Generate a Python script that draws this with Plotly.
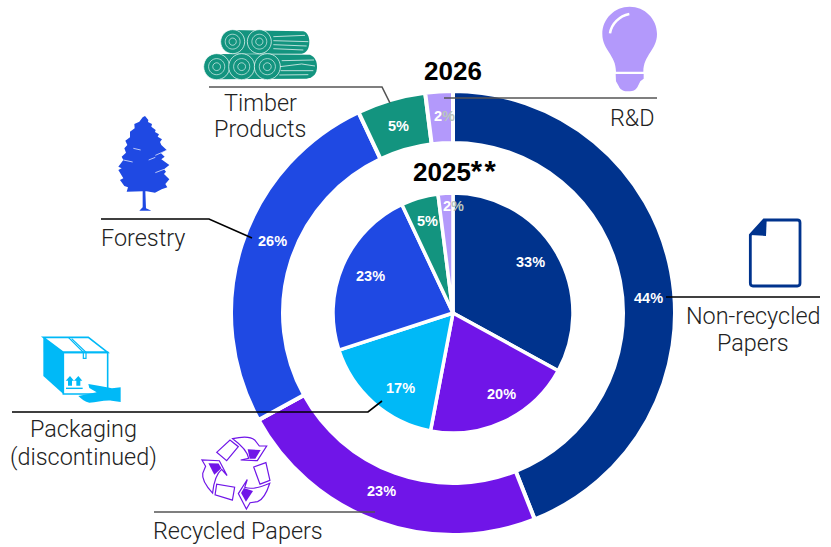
import re, math
import plotly.graph_objects as go

W, H = 831, 547

categories = ["Non-recycled Papers", "Recycled Papers", "Packaging (discontinued)", "Forestry", "Timber Products", "R&D"]
values_2026 = [44, 23, 0, 26, 5, 2]
values_2025 = [33, 20, 17, 23, 5, 2]
colors = ["#00338D", "#7015E8", "#00B9F7", "#1F49E3", "#13947F", "#B399FB"]


def fx(x): return x / W
def fy(y): return 1 - y / H


def domain(cx, cy, r):
    return dict(x=[fx(cx - r), fx(cx + r)], y=[fy(cy + r), fy(cy - r)])


CX, CY = 453, 313
fig = go.Figure()
fig.add_trace(go.Pie(labels=categories, values=values_2026, sort=False, direction="clockwise", rotation=0,
                     hole=170 / 222, domain=domain(CX, CY, 222), textinfo="none", showlegend=False,
                     marker=dict(colors=colors, line=dict(color="white", width=4))))
fig.add_trace(go.Pie(labels=categories, values=values_2025, sort=False, direction="clockwise", rotation=0,
                     hole=0, domain=domain(CX, CY, 120), textinfo="none", showlegend=False,
                     marker=dict(colors=colors, line=dict(color="white", width=3.5))))

shapes = []


def tf(path, ox=0, oy=0, s=1.0, rot=0, c=(0, 0)):
    """Map an icon path from its sketch space to paper coordinates."""
    toks = re.findall(r"[MLCQZ]|-?\d+\.?\d*", path)
    res, i = [], 0
    while i < len(toks):
        t = toks[i]
        if t in "MLCQZ":
            res.append(t); i += 1
        else:
            x, y = float(toks[i]), float(toks[i + 1])
            if rot:
                a = math.radians(rot)
                dx, dy = x - c[0], y - c[1]
                x = c[0] + dx * math.cos(a) - dy * math.sin(a)
                y = c[1] + dx * math.sin(a) + dy * math.cos(a)
            res.append(f"{fx(ox + x * s):.5f},{fy(oy + y * s):.5f}")
            i += 2
    return " ".join(res)


def icon(path, fill=None, line=None, width=0, **kw):
    shapes.append(dict(type="path", xref="paper", yref="paper", path=tf(path, **kw),
                       fillcolor=fill if fill else "rgba(0,0,0,0)",
                       line=dict(color=line if line else "rgba(0,0,0,0)", width=width)))


def circ(x, y, r):
    k = 0.5523 * r
    return (f"M{x-r},{y} C{x-r},{y-k} {x-k},{y-r} {x},{y-r} C{x+k},{y-r} {x+r},{y-k} {x+r},{y} "
            f"C{x+r},{y+k} {x+k},{y+r} {x},{y+r} C{x-k},{y+r} {x-r},{y+k} {x-r},{y} Z")


def poly(pts):
    return "M" + " L".join(f"{a},{b}" for a, b in pts) + " Z"


def leader(pts, color, width=1.6):
    shapes.append(dict(type="path", xref="paper", yref="paper",
                       path="M" + " L".join(f"{fx(a):.5f},{fy(b):.5f}" for a, b in pts),
                       line=dict(color=color, width=width)))


# ---- leader lines
leader([(209, 87), (382, 87), (390, 103)], "#555555")
leader([(444, 98), (657, 98)], "#555555")
leader([(666, 297), (820, 297)], "#000000")
leader([(101, 219), (209, 219), (252, 238)], "#000000")
leader([(12, 412), (368, 412), (382, 401)], "#000000")
leader([(154, 512), (375, 512)], "#555555")

# ---- R&D bulb (sketch space: zoom crop, 3x)
B = dict(ox=560, oy=0, s=1 / 3)
L = "#B399FB"
icon("M168,215 C168,165 127,150 127,102 C127,56 164,20 209,20 C254,20 291,56 291,102 C291,150 250,165 250,215 Z", fill=L, **B)
icon("M167,222 L251,222 L251,236 L241,244 L232,262 C226,272 218,274 210,274 C200,274 184,276 176,258 L168,244 Z", fill=L, **B)
icon("M150,100 C154,72 178,48 208,42", line="white", width=2.5, **B)

# ---- document
D = dict(ox=560, oy=0, s=1 / 3)
icon("M571,705 L612,660 L712,660 C717,660 720,663 720,668 L720,850 C720,855 717,858 712,858 L579,858 C574,858 571,855 571,850 Z",
     fill="white", line="#00338D", width=2.8, **D)
icon("M571,705 L612,660 L620,660 L618,708 Z", fill="#00338D", **D)

# ---- tree
T = dict(ox=90, oy=100, s=1 / 3)
tree = [(165,48),(175,60),(174,66),(186,72),(184,80),(197,90),(195,96),(207,103),(203,110),(216,118),(210,126),(214,135),
        (230,150),(213,160),(224,170),(214,178),(238,195),(222,208),(228,215),(222,222),(238,238),(226,252),(232,262),
        (215,268),(195,278),(170,274),(166,274),(168,325),(184,332),(148,332),(158,322),(158,274),(110,275),(114,262),
        (103,258),(90,240),(100,235),(85,210),(95,205),(85,200),(100,180),(95,170),(108,158),(103,145),(112,135),
        (106,122),(120,112),(120,95),(134,85),(133,72),(148,65),(158,52)]
icon(poly(tree), fill="#1F49E3", **T)
for p in ["M100,180 L128,186", "M228,152 L196,166", "M222,208 L196,218", "M130,145 L152,150", "M196,172 L176,180"]:
    icon(p, line="white", width=0.7, **T)

# ---- logs
G = "#13947F"
Z = dict(ox=190, oy=0, s=1 / 3)
icon("M128,90 L340,94 C352,96 358,112 358,125 C358,145 350,158 335,161 L128,161 Z", fill=G, **Z)
icon("M80,162 L360,164 C375,170 381,185 381,200 C381,220 372,232 350,236 L80,238 Z", fill=G, **Z)
for cx_, cy_, r_ in [(128, 125, 36), (208, 125, 36), (80, 200, 39), (155, 200, 39), (232, 200, 39)]:
    icon(circ(cx_, cy_, r_), fill=G, line="white", width=0.7, **Z)
    icon(circ(cx_, cy_, r_ * 0.62), line="white", width=0.6, **Z)
    icon(circ(cx_, cy_, r_ * 0.3), line="white", width=0.6, **Z)
for p in ["M250,110 L345,106", "M250,122 L355,125", "M250,134 L350,138", "M250,146 L340,150",
          "M275,182 L372,180", "M270,200 L335,192 L375,198", "M272,212 L370,212", "M268,225 L355,224"]:
    icon(p, line="white", width=0.7, **Z)

# ---- box + hand
K = dict(ox=0, oy=320, s=1 / 3)
C = "#00B9F7"
icon(poly([(130, 52), (190, 97), (190, 222), (130, 168)]), fill=C, **K)
icon(poly([(130, 52), (265, 52), (323, 97), (190, 97)]), line=C, width=1.6, **K)
icon(poly([(190, 97), (323, 97), (323, 215), (300, 222), (190, 222)]), line=C, width=1.6, **K)
icon("M205,52 L250,97 L250,115 L258,115 L258,97 L215,56", line=C, width=1.2, **K)
icon(poly([(210,168),(222,182),(216,182),(216,197),(204,197),(204,182),(197,182)]), fill=C, **K)
icon(poly([(235,168),(247,182),(241,182),(241,197),(229,197),(229,182),(222,182)]), fill=C, **K)
icon("M198,205 L248,205", line=C, width=1.4, **K)
icon("M265,192 L300,198 L336,205 L362,202 L362,246 L335,242 C310,240 290,248 268,248 C255,246 245,238 235,228 L290,217 L268,204 Z", fill=C, **K)

# ---- recycling symbol
R = dict(ox=0, oy=320, s=1 / 3, c=(715, 455))
P = "#7015E8"
for rot in (0, 120, 240):
    icon(poly([(650, 397), (690, 360), (715, 380), (680, 422)]), line=P, width=1.2, rot=rot, **R)
    icon("M698,356 C725,350 750,348 764,360 L778,378 L800,378 L772,422 L722,420 L746,415 C742,392 720,372 698,356 Z",
         line=P, width=1.2, rot=rot, **R)
    icon(poly([(743, 388), (782, 390), (766, 416), (749, 416)]), fill=P, rot=rot, **R)

# ---- text
annotations = []


def text(x, y, s, size, color="#222222", family="Liberation Sans", weight=None):
    f = dict(size=size, color=color, family=family)
    if weight:
        f["weight"] = weight
    annotations.append(dict(x=fx(x), y=fy(y), xref="paper", yref="paper", text=s, showarrow=False,
                            xanchor="center", yanchor="middle", font=f))


for (x, y), v in zip([(648, 298), (381, 491), (0, 0), (272, 241), (398, 126)], values_2026):
    if v:
        text(x, y, f"{v}%", 14.5, "white", weight=700)
text(444, 116, f"{values_2026[5]}<span style='color:#B9C6BC'>%</span>", 14.5, "white", weight=700)
for (x, y), v in zip([(530, 262), (501, 394), (400, 388), (370, 276), (427, 221)], values_2025):
    text(x, y, f"{v}%", 14.5, "white", weight=700)
text(453, 206, f"{values_2025[5]}<span style='color:#B9C6BC'>%</span>", 14.5, "white", weight=700)

text(453, 71, "2026", 26, "#000000", weight=700)
text(455, 171, "2025<span style='font-size:29px'>*\u200a*</span>", 26, "#000000", weight=700)

for x, y, s in [(260, 102.5, "Timber"), (260, 128.5, "Products"), (143, 238, "Forestry"), (83, 429, "Packaging"),
                (83, 457, "(discontinued)"), (238, 531, "Recycled Papers"), (632, 118, "R&D"),
                (753, 316, "Non-recycled"), (753, 343, "Papers")]:
    text(x, y, s, 23.4, "#222222", "Roboto", 300)

fig.update_layout(width=W, height=H, margin=dict(l=0, r=0, t=0, b=0), paper_bgcolor="white",
                  showlegend=False, shapes=shapes, annotations=annotations)
fig.write_html("out.html", post_script="document.body.style.margin='0';", config=dict(displayModeBar=False))
